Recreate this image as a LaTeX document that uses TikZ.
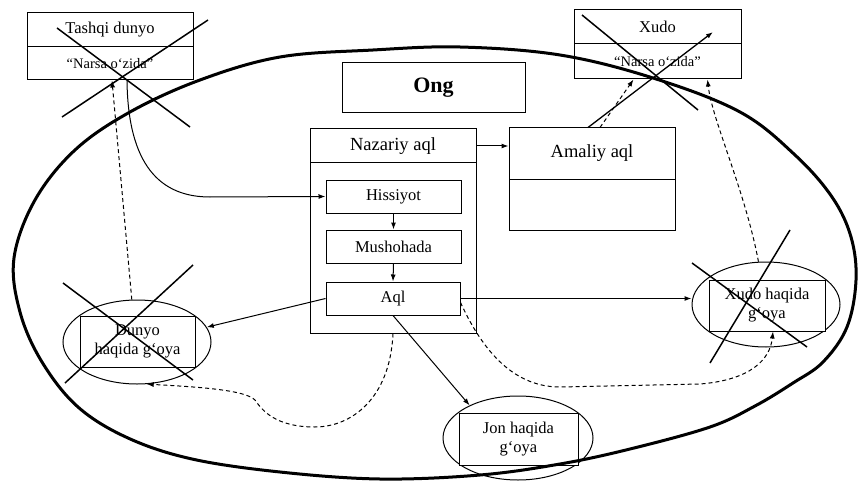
\documentclass[tikz,border=0pt]{standalone}
\usepackage{fontspec}
\setmainfont{Liberation Serif}
\usetikzlibrary{shapes.geometric,arrows.meta}
\newcommand\fsBase{\fontsize{16.5}{19}\selectfont}
\newcommand\fsBig{\fontsize{18.5}{21}\selectfont}
\newcommand\fsSmall{\fontsize{14.5}{17}\selectfont}
\newcommand\fsOng{\fontsize{22}{26}\selectfont\bfseries}
\begin{document}
\begin{tikzpicture}[x=1pt,y=-1pt,
  box/.style={draw, rectangle, fill=white, inner sep=0pt, line width=1pt, font=\fsBase, align=center},
  oval/.style={draw, ellipse, inner sep=0pt, line width=1pt},
  conn/.style={-{Latex[length=7pt,width=5pt]}, line width=1pt},
  dconn/.style={conn, dash pattern=on 4pt off 3pt},
  xline/.style={line width=1.5pt},
  rim/.style={line width=3pt}]
\useasboundingbox (0,0) rectangle (858,481);
\fill[white] (0,0) rectangle (858,481);

% ovals
\node[oval, minimum width=148pt, minimum height=84pt] (dunyoE) at (137,342) {};
\node[oval, minimum width=148pt, minimum height=85pt] (xhE) at (766,304.5) {};
\node[oval, minimum width=150pt, minimum height=84pt] (jonE) at (518,438) {};

% boxes
\node[box, minimum width=166pt, minimum height=34pt] (tashqiA) at (110,30) {Tashqi dunyo};
\node[box, minimum width=166pt, minimum height=33pt, font=\fsSmall] (tashqiB) at (110,63.5) {“Narsa o‘zida”};
\node[box, minimum width=183pt, minimum height=50pt, font=\fsOng] (ong) at (433.5,88) {Ong};
\node[box, minimum width=166pt, minimum height=170pt] (nazBody) at (393,248) {};
\node[box, minimum width=166pt, minimum height=34pt, font=\fsBig] (nazTop) at (393,146) {Nazariy aql};
\node[box, minimum width=135pt, minimum height=33pt] (hiss) at (393.5,196.5) {Hissiyot};
\node[box, minimum width=135pt, minimum height=33pt] (mush) at (393.5,246.5) {Mushohada};
\node[box, minimum width=134pt, minimum height=33pt] (aql) at (393,298.5) {Aql};
\node[box, minimum width=166pt, minimum height=51pt, font=\fsBig] (amalTop) at (592,153.5) {Amaliy aql};
\node[box, minimum width=166pt, minimum height=51pt] (amalBot) at (592,204.5) {};
\node[box, minimum width=167pt, minimum height=34pt] (xudoA) at (657.5,27) {Xudo};
\node[box, minimum width=167pt, minimum height=35pt, font=\fsSmall] (xudoB) at (657.5,61.5) {“Narsa o‘zida”};
\node[box, minimum width=115pt, minimum height=51pt] (dunyoBox) at (137.5,341.5) {Dunyo\\haqida g‘oya};
\node[box, minimum width=116pt, minimum height=51pt] (xhBox) at (767,305.5) {Xudo haqida\\g‘oya};
\node[box, minimum width=119pt, minimum height=52pt] (jonBox) at (518.5,439) {Jon haqida\\g‘oya};

% connectors
\draw[conn] ([xshift=17pt]tashqiB.south) .. controls (128,165) and (160,197) .. (210,197) -- (hiss.west);
\draw[conn] (hiss.south) -- (mush.north);
\draw[conn] (mush.south) -- (aql.north);
\draw[conn] (nazTop.east) -- (nazTop.east -| amalTop.west);
\draw[conn] (aql.west) -- (dunyoE.12);
\draw[conn] (aql.south) -- (jonE.146);
\draw[conn] (aql.east) -- (aql.east -| xhE.west);
\draw[dconn] (dunyoE.97) -- ([xshift=2pt]tashqiB.south);
\draw[dconn] (nazBody.south) .. controls (390,400) and (350,427) .. (315,427)
   .. controls (275,427) and (262,410) .. (255,400)
   .. controls (245,390) and (200,387) .. (dunyoE.283);
\draw[dconn] ([yshift=-4pt]aql.east) .. controls (480,345) and (510,387) .. (560,387)
   -- (700,384) .. controls (750,380) and (770,360) .. ([xshift=6pt]xhBox.south);
\draw[dconn] (xhE.100) .. controls (745,190) and (712,120) .. ([xshift=50pt]xudoB.south);
\coordinate (xudoTip) at (713,32);
\draw[conn, line width=1.3pt] ([xshift=-4pt]amalTop.north) -- (xudoTip);
\draw[dconn] ([xshift=8pt]amalTop.north) -- ([xshift=-24pt]xudoB.south);

% crosses
\draw[xline] (57,28) -- (190,127);
\draw[xline] (208,20) -- (62,117);
\draw[xline] (582,15) -- (698,110);
\draw[xline] (63,283) -- (193,380);
\draw[xline] (193,265) -- (65,383);
\draw[xline] (790,230) -- (710,363);
\draw[xline] (692,263) -- (807,347);

% outer rim
\draw[rim] plot[smooth cycle, tension=0.6] coordinates {
 (14,258) (20,312) (42,362) (78,407) (128,438) (192,459) (280,472) (380,479) (480,475)
 (560,464) (630,449) (710,427) (755,406) (793,383) (823,362) (847,327) (856,280)
 (851,237) (832,197) (795,155) (740,112) (653,78) (560,55) (460,47) (373,50) (280,57)
 (200,80) (130,112) (75,150) (35,200)};
\end{tikzpicture}
\end{document}
